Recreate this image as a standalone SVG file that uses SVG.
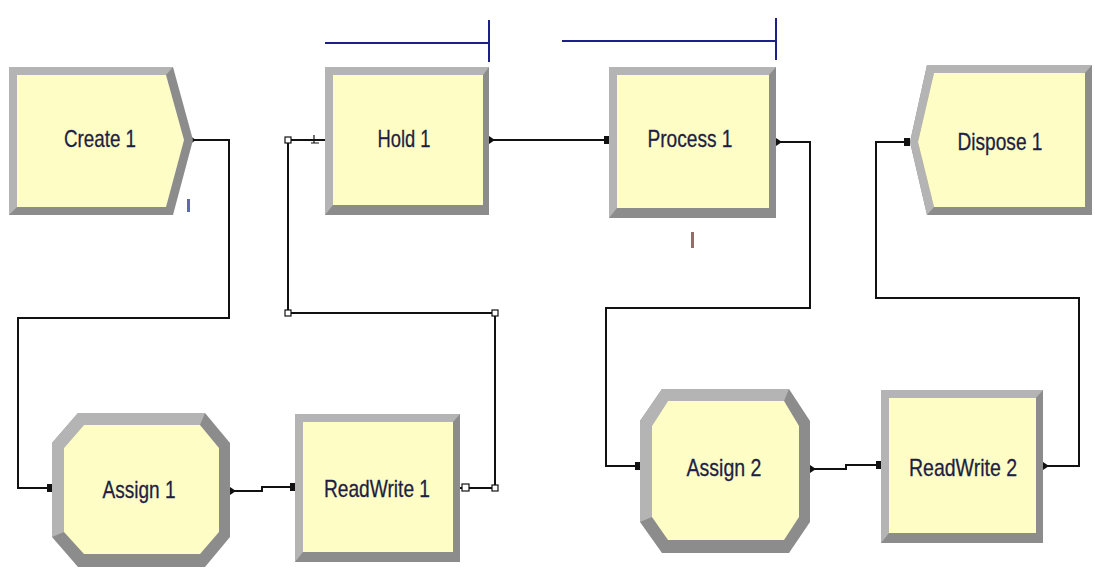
<svg xmlns="http://www.w3.org/2000/svg" width="1095" height="574" viewBox="0 0 1095 574">
  <style>
    .dark { fill: #8c8c8c; }
    .light { fill: #b4b4b4; }
    .face { fill: #fefdc6; }
    .label { font-family: "Liberation Sans", Arial, sans-serif; font-size: 24px; fill: #1e1e44; stroke: #1e1e44; stroke-width: 0.3; text-anchor: middle; dominant-baseline: central; }
    .wire { fill: none; stroke: #111; stroke-width: 2; }
    .port { fill: #111; }
    .handle { fill: #fff; stroke: #111; stroke-width: 1.2; }
    .bar { fill: none; stroke: #1f1f8a; stroke-width: 2; }
  </style>

  <rect width="1095" height="574" fill="#ffffff"/>

  <!-- connectors -->
  <g id="connectors">
    <path class="wire" d="M193,140 H229 V318 H18 V488 H52"/>
    <path class="wire" d="M230,491 H262 V487 H295"/>
    <path class="wire" d="M460,488 H495 V313 H288 V140 H325"/>
    <path class="wire" d="M489,140 H609"/>
    <path class="wire" d="M776,142 H810 V308 H606 V466 H640"/>
    <path class="wire" d="M810,469 H846 V465 H881"/>
    <path class="wire" d="M1043,466 H1079 V298 H876 V142 H910"/>

    <!-- vertex handles of the selected loop -->
    <rect class="handle" x="285" y="137" width="6" height="6"/>
    <rect class="handle" x="285" y="310" width="6" height="6"/>
    <rect class="handle" x="492" y="310" width="6" height="6" fill="#111"/>
    <rect class="handle" x="492" y="485" width="6" height="6"/>
    <rect class="handle" x="462" y="484" width="7" height="7"/>
    <path d="M314,135 V143 M311,143 H319" stroke="#111" stroke-width="1.2" fill="none"/>

    <!-- entry ports -->
    <rect class="port" x="47" y="484" width="6" height="8"/>
    <rect class="port" x="290" y="483" width="6" height="8"/>
    <rect class="port" x="604" y="136" width="6" height="8"/>
    <rect class="port" x="635" y="462" width="6" height="8"/>
    <rect class="port" x="876" y="461" width="6" height="8"/>
    <rect class="port" x="904" y="138" width="6" height="8"/>

    <!-- exit ports -->
    <path class="port" d="M190,136 L196,140 L190,144 Z"/>
    <path class="port" d="M489,136 L495,140 L489,144 Z"/>
    <path class="port" d="M776,138 L782,142 L776,146 Z"/>
    <path class="port" d="M230,487 L236,491 L230,495 Z"/>
    <path class="port" d="M810,465 L816,469 L810,473 Z"/>
    <path class="port" d="M1043,462 L1049,466 L1043,470 Z"/>
  </g>

  <!-- queue bars -->
  <g id="queues">
    <path class="bar" d="M325,43 H489 M489,20 V62"/>
    <path class="bar" d="M562,41 H776 M776,18 V60"/>
  </g>

  <!-- small animation marks -->
  <rect x="187" y="199" width="3" height="13" fill="#5a6ab8"/>
  <rect x="691" y="232" width="3" height="16" fill="#9a6a6a"/>

  <!-- Create 1 -->
  <g id="create1">
    <polygon class="dark" points="9,67 173,67 193,140 173,215 9,215"/>
    <polygon class="light" points="9,67 173,67 166,75 17,75 17,207 9,215"/>
    <polygon class="face" points="17,75 166,75 184,140 166,207 17,207"/>
    <text class="label" x="100" y="138" textLength="72" lengthAdjust="spacingAndGlyphs">Create 1</text>
  </g>

  <!-- Hold 1 -->
  <g id="hold1">
    <rect class="dark" x="325" y="67" width="164" height="148"/>
    <polygon class="light" points="325,67 489,67 483,75 333,75 333,205 325,215"/>
    <rect class="face" x="333" y="75" width="150" height="130"/>
    <text class="label" x="404" y="138" textLength="53" lengthAdjust="spacingAndGlyphs">Hold 1</text>
  </g>

  <!-- Process 1 -->
  <g id="process1">
    <rect class="dark" x="609" y="67" width="167" height="151"/>
    <polygon class="light" points="609,67 776,67 769,75 617,75 617,208 609,218"/>
    <rect class="face" x="617" y="75" width="152" height="133"/>
    <text class="label" x="690" y="138" textLength="85" lengthAdjust="spacingAndGlyphs">Process 1</text>
  </g>

  <!-- Dispose 1 -->
  <g id="dispose1">
    <polygon class="dark" points="910,142 927,65 1092,65 1092,215 927,215"/>
    <polygon class="light" points="910,142 927,65 1092,65 1085,73 934,73 918,142 934,207 927,215"/>
    <polygon class="face" points="918,142 934,73 1085,73 1085,207 934,207"/>
    <text class="label" x="1000" y="141" textLength="85" lengthAdjust="spacingAndGlyphs">Dispose 1</text>
  </g>

  <!-- Assign 1 -->
  <g id="assign1">
    <polygon class="dark" points="78,413 205,413 230,443 230,537 205,567 78,567 52,537 52,443"/>
    <polygon class="light" points="78,413 205,413 200,425 84,425 64,448 64,532 52,537 52,443"/>
    <polygon class="face" points="84,425 200,425 219,448 219,532 200,554 84,554 64,532 64,448"/>
    <text class="label" x="139" y="489" textLength="73" lengthAdjust="spacingAndGlyphs">Assign 1</text>
  </g>

  <!-- ReadWrite 1 -->
  <g id="readwrite1">
    <rect class="dark" x="295" y="414" width="165" height="148"/>
    <polygon class="light" points="295,414 460,414 453,422 303,422 303,552 295,562"/>
    <rect class="face" x="303" y="422" width="150" height="130"/>
    <text class="label" x="377" y="488" textLength="106" lengthAdjust="spacingAndGlyphs">ReadWrite 1</text>
  </g>

  <!-- Assign 2 -->
  <g id="assign2">
    <polygon class="dark" points="662,389 789,389 810,421 810,522 789,553 662,553 640,522 640,421"/>
    <polygon class="light" points="662,389 789,389 784,401 668,401 652,426 652,517 640,522 640,421"/>
    <polygon class="face" points="668,401 784,401 799,426 799,517 784,540 668,540 652,517 652,426"/>
    <text class="label" x="724" y="467" textLength="75" lengthAdjust="spacingAndGlyphs">Assign 2</text>
  </g>

  <!-- ReadWrite 2 -->
  <g id="readwrite2">
    <rect class="dark" x="881" y="390" width="162" height="153"/>
    <polygon class="light" points="881,390 1043,390 1036,398 889,398 889,533 881,543"/>
    <rect class="face" x="889" y="398" width="147" height="135"/>
    <text class="label" x="963" y="467" textLength="108" lengthAdjust="spacingAndGlyphs">ReadWrite 2</text>
  </g>
</svg>
